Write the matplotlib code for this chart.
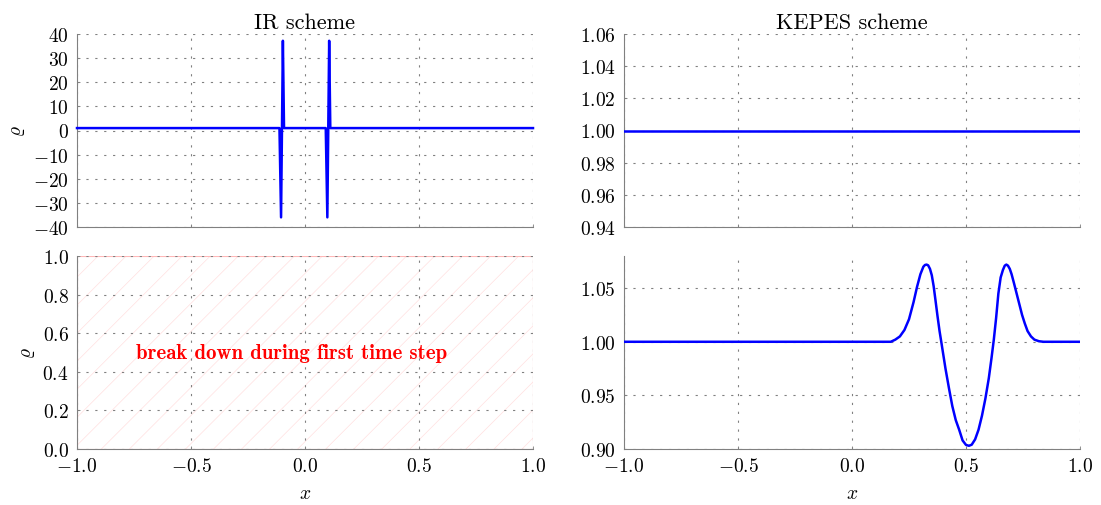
import numpy as np
import matplotlib
matplotlib.use('Agg')
import matplotlib.pyplot as plt
from matplotlib.patches import Rectangle
from matplotlib.ticker import FuncFormatter

plt.rcParams['font.family'] = 'serif'
plt.rcParams['font.serif'] = ['cmr10']
plt.rcParams['mathtext.fontset'] = 'cm'
plt.rcParams['axes.formatter.use_mathtext'] = True
plt.rcParams['font.size'] = 14

# IR scheme, first time step (density spikes)
x_ir = [-1.0, -0.112, -0.105, -0.097, -0.092, 0.091, 0.098, 0.106, 0.111, 1.0]
rho_ir = [1.0, 1.0, -36.0, 37.2, 1.0, 1.0, -36.0, 37.2, 1.0, 1.0]

# KEPES scheme, first time step
x_kepes_top = [-1.0, 1.0]
rho_kepes_top = [1.0, 1.0]

# KEPES scheme, final time
x_kepes = [-1.0, 0.17, 0.19, 0.21, 0.23, 0.25, 0.27, 0.285, 0.30, 0.313,
           0.320, 0.327, 0.334, 0.342, 0.350, 0.358, 0.366, 0.375, 0.384, 0.393,
           0.41, 0.425, 0.44, 0.455, 0.47, 0.485, 0.50, 0.513, 0.525, 0.54,
           0.555, 0.57, 0.585, 0.60, 0.612, 0.622, 0.632, 0.642, 0.652, 0.662,
           0.670, 0.677, 0.684, 0.692, 0.700, 0.710, 0.722, 0.734, 0.746, 0.758,
           0.770, 0.785, 0.80, 0.82, 0.84, 1.0]
rho_kepes = [1.000, 1.000, 1.002, 1.005, 1.011, 1.021, 1.037, 1.051, 1.063, 1.070,
             1.0716, 1.072, 1.0713, 1.068, 1.062, 1.052, 1.039, 1.024, 1.010, 0.998,
             0.975, 0.957, 0.940, 0.927, 0.918, 0.908, 0.9038, 0.9030, 0.904, 0.909,
             0.918, 0.931, 0.947, 0.966, 0.985, 1.002, 1.022, 1.045, 1.060, 1.067,
             1.071, 1.072, 1.071, 1.068, 1.063, 1.055, 1.045, 1.035, 1.025, 1.017,
             1.010, 1.005, 1.002, 1.0005, 1.000, 1.000]

xticks = [-1.0, -0.5, 0.0, 0.5, 1.0]
blue = '#0000ff'
gray = '#808080'


def fmt(digits):
    return FuncFormatter(lambda v, p: r'$%.*f$' % (digits, v))


fig = plt.figure(figsize=(11.01, 5.06), dpi=100)
L1, R1 = 77 / 1101, 533 / 1101
L2, R2 = 624 / 1101, 1080 / 1101
top_b, top_h = 1 - 228 / 506, 193 / 506
bot_b, bot_h = 1 - 450 / 506, 193 / 506
ax1 = fig.add_axes([L1, top_b, R1 - L1, top_h])
ax2 = fig.add_axes([L2, top_b, R2 - L2, top_h])
ax3 = fig.add_axes([L1, bot_b, R1 - L1, bot_h])
ax4 = fig.add_axes([L2, bot_b, R2 - L2, bot_h])


def style(ax):
    for s in ['top', 'right']:
        ax.spines[s].set_visible(False)
    for s in ['left', 'bottom']:
        ax.spines[s].set_color(gray)
        ax.spines[s].set_linewidth(0.8)
    ax.grid(True, color=gray, linestyle=(0, (2, 6)), linewidth=0.8)
    ax.tick_params(direction='in', length=2, color=gray, width=0.6)
    ax.tick_params(axis='y', pad=6)
    ax.tick_params(axis='x', pad=6)
    ax.set_xlim(-1, 1)
    ax.set_xticks(xticks)


for ax in (ax1, ax2, ax3, ax4):
    style(ax)

ax1.plot(x_ir, rho_ir, color=blue, lw=1.8, clip_on=False, zorder=3)
ax1.set_ylim(-40, 40)
ax1.set_yticks(range(-40, 41, 10))
ax1.set_xticklabels([])
ax1.set_ylabel(r'$\varrho$', labelpad=4)
ax1.set_title('IR scheme', fontsize=16, pad=4)

ax2.plot(x_kepes_top, rho_kepes_top, color=blue, lw=1.8, zorder=3)
ax2.set_ylim(0.94, 1.06)
ax2.set_yticks(np.arange(0.94, 1.0601, 0.02))
ax2.yaxis.set_major_formatter(fmt(2))
ax2.set_xticklabels([])
ax2.set_title('KEPES scheme', fontsize=16, pad=4)

# hatched "break down" panel
ax3.set_ylim(0, 1)
ax3.set_yticks(np.arange(0, 1.01, 0.2))
ax3.yaxis.set_major_formatter(fmt(1))
slope = (456 / 193) / 2
for c in np.arange(-2.0, 1.2, 0.123):
    ax3.plot([c, c + 1 / slope], [0, 1], color=(1, 0.88, 0.88), lw=0.5, zorder=1)
ax3.add_patch(Rectangle((0, 0), 1, 1, transform=ax3.transAxes, fill=False,
                        edgecolor=(1, 0.72, 0.72), lw=0.8, zorder=1))
ax3.text(-0.06, 0.5, 'break down during first time step', color='red',
         fontfamily='cmb10', fontsize=15, ha='center', va='center')
ax3.set_ylabel(r'$\varrho$', labelpad=4)
ax3.set_xlabel(r'$x$', labelpad=6)
ax3.xaxis.set_major_formatter(fmt(1))

ax4.plot(x_kepes, rho_kepes, color=blue, lw=1.8, zorder=3)
ax4.set_ylim(0.9, 1.08)
ax4.set_yticks([0.90, 0.95, 1.00, 1.05])
ax4.yaxis.set_major_formatter(fmt(2))
ax4.set_xlabel(r'$x$', labelpad=6)
ax4.xaxis.set_major_formatter(fmt(1))

fig.savefig('out.png', dpi=100)
